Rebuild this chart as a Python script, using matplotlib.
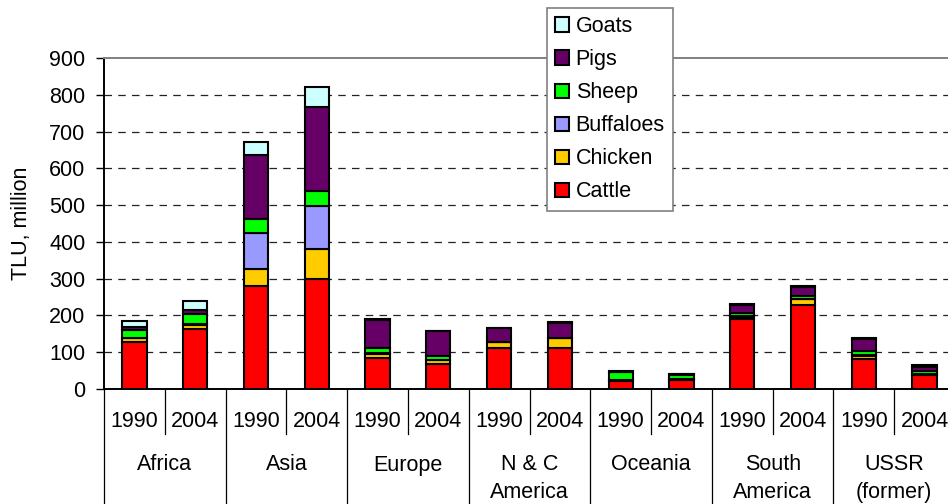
import matplotlib
matplotlib.use("Agg")
import matplotlib.pyplot as plt
import matplotlib.transforms as mtransforms
from matplotlib.patches import Patch
import numpy as np

plt.rcParams['font.family'] = ['Liberation Sans', 'DejaVu Sans']

# ---- data ----
regions = ['Africa', 'Asia', 'Europe', 'N & C\nAmerica', 'Oceania', 'South\nAmerica', 'USSR\n(former)']
years = ['1990', '2004']
series_names = ['Cattle', 'Chicken', 'Buffaloes', 'Sheep', 'Pigs', 'Goats']
series_colors = ['#FF0000', '#FFCC00', '#9999FF', '#00FF00', '#660066', '#CCFFFF']

# order: Africa 1990, Africa 2004, Asia 1990, Asia 2004, ...
cattle    = [128, 164, 280, 298, 84, 67, 111, 111, 23, 25, 189, 228, 81, 37]
chicken   = [10, 11, 45, 84, 11, 12, 16, 27, 1, 1, 8, 16, 9, 4]
buffaloes = [2, 2, 100, 116, 2, 1, 0, 0, 0, 0, 2, 1, 2, 1]
sheep     = [21, 27, 38, 40, 15, 11, 2, 2, 22, 12, 9, 8, 12, 7]
pigs      = [7, 10, 172, 230, 75, 66, 37, 40, 1, 2, 21, 23, 33, 12]
goats     = [18, 24, 37, 52, 3, 1, 1, 1, 1, 1, 3, 3, 3, 3]
series_values = [cattle, chicken, buffaloes, sheep, pigs, goats]

yticks = list(range(0, 1000, 100))

FS = 15.5
W, H = 948, 504
fig = plt.figure(figsize=(W / 100, H / 100), dpi=100)
ax = fig.add_axes([104 / W, 115 / H, 851 / W, 331 / H])

n = len(regions) * len(years)
x = np.arange(n) + 0.5
bottom = np.zeros(n)
for name, vals, col in zip(series_names, series_values, series_colors):
    v = np.array(vals, dtype=float)
    ax.bar(x, v, width=0.4, bottom=bottom, color=col, edgecolor='black',
           linewidth=1.5, zorder=3, label=name)
    bottom += v

ax.set_xlim(0, n)
ax.set_ylim(0, 900)
ax.set_yticks(yticks)
ax.set_yticklabels([str(t) for t in yticks], fontsize=FS)
ax.tick_params(axis='y', direction='out', length=5.5, width=1, pad=8, color='black')
ax.set_xticks([])

# grid lines
for t in yticks[1:-1]:
    ax.axhline(t, color='#222222', linewidth=0.9, linestyle=(0, (6, 5)), zorder=1)

for s in ['left', 'bottom']:
    ax.spines[s].set_color('black')
    ax.spines[s].set_linewidth(1.4)
ax.spines['top'].set_color('#808080')
ax.spines['top'].set_linewidth(1.4)
ax.spines['right'].set_visible(False)

ax_h = 331.0
def yfrac(py):
    return -(py - 389.0) / ax_h

trans = mtransforms.blended_transform_factory(ax.transData, ax.transAxes)

# separators
for i in range(n + 1):
    yb = yfrac(504 + 5) if i % 2 == 0 else yfrac(434)
    ax.plot([i, i], [0, yb], color='black', linewidth=0.9, transform=trans,
            clip_on=False, zorder=4)

# year labels
for i in range(n):
    ax.text(i + 0.5, yfrac(427.3), years[i % 2], transform=trans, ha='center',
            va='baseline', fontsize=FS)

# region labels
for g, reg in enumerate(regions):
    for j, line in enumerate(reg.split('\n')):
        ax.text(2 * g + 1, yfrac(470.5 + 27.8 * j), line, transform=trans,
                ha='center', va='baseline', fontsize=FS)

fig.text(22 / W, 1 - 223.5 / H, 'TLU, million', rotation=90, ha='center',
         va='center', fontsize=FS)

handles = [Patch(facecolor=c, edgecolor='black', linewidth=1.5, label=nm)
           for nm, c in zip(series_names, series_colors)][::-1]
leg = fig.legend(handles=handles, loc='upper left',
                 bbox_to_anchor=(547 / W, 1 - 8 / H), borderaxespad=0,
                 fontsize=FS, frameon=True, fancybox=False, framealpha=1,
                 edgecolor='#808080', handlelength=0.65, handleheight=0.65,
                 handletextpad=0.3, labelspacing=0.56, borderpad=0.38)
leg.get_frame().set_linewidth(1.2)

fig.savefig('out.png', dpi=100)
